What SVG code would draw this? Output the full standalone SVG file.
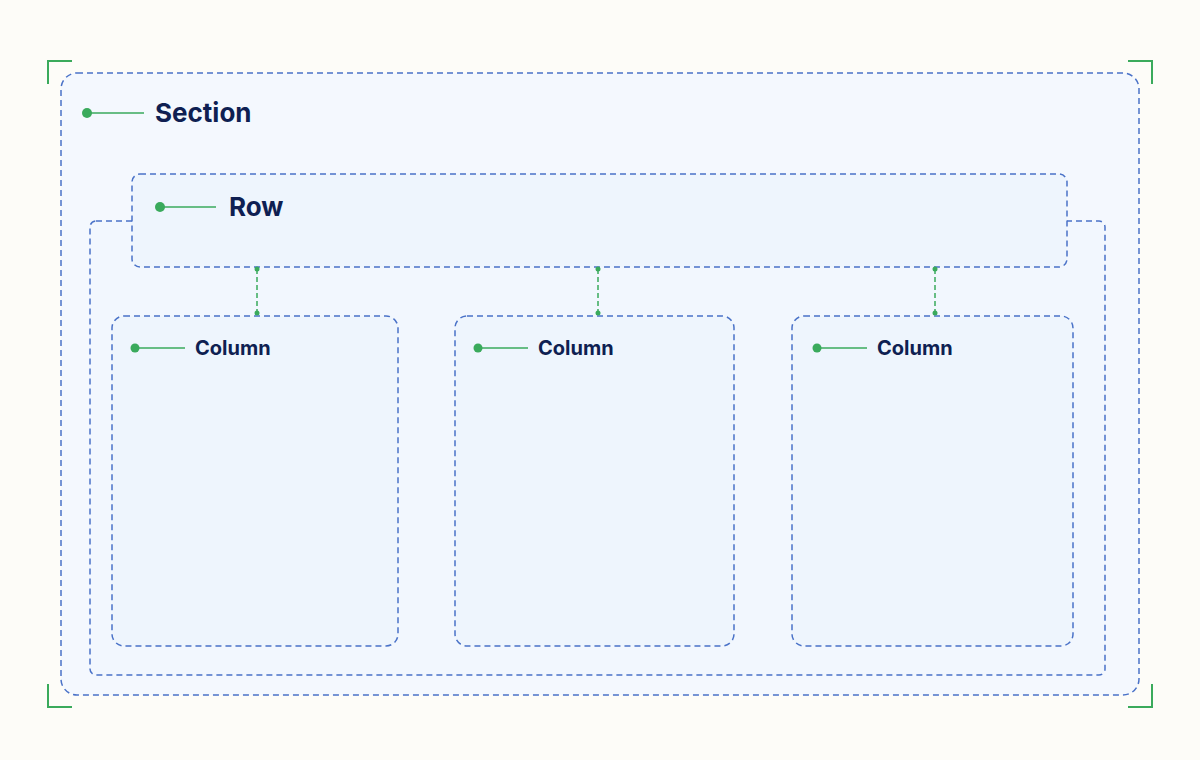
<svg xmlns="http://www.w3.org/2000/svg" width="1200" height="760" viewBox="0 0 1200 760">
<style>
.box{fill:#eef5fd;stroke:#4a72c8;stroke-width:1.5;stroke-dasharray:6 4}
.lbl{font-family:Inter,"Liberation Sans",sans-serif;font-weight:700;fill:#0f1f52}
.lead{stroke:#3aaa5c;stroke-width:1.5}
.dot{fill:#3aaa5c}
.br{fill:none;stroke:#3aaa5c;stroke-width:2}
.conn{stroke:#3aaa5c;stroke-width:1.5;stroke-dasharray:5 3}
</style>
<rect width="1200" height="760" fill="#fdfcf8"/>
<path class="br" d="M48 84V61H72M1128 61H1152V84M48 684V707H72M1128 707H1152V684"/>
<g id="section"><rect class="box" x="61" y="73" width="1078" height="622" rx="16" style="fill:#f4f8fe"/>
<circle class="dot" cx="87" cy="113" r="5"/><line class="lead" x1="87" y1="113" x2="144" y2="113"/>
<text class="lbl" x="155" y="122" font-size="26">Section</text></g>
<g id="container"><rect class="box" x="90" y="221" width="1015" height="454" rx="6" style="fill:#f2f7fe"/></g>
<g id="row"><rect class="box" x="132" y="174" width="935" height="93" rx="8"/>
<circle class="dot" cx="160" cy="207" r="5"/><line class="lead" x1="160" y1="207" x2="216" y2="207"/>
<text class="lbl" x="229" y="216" font-size="26">Row</text></g>
<g id="col1"><rect class="box" x="112" y="316" width="286" height="330" rx="12"/>
<circle class="dot" cx="135" cy="348" r="4.5"/><line class="lead" x1="135" y1="348" x2="185" y2="348"/>
<text class="lbl" x="195" y="355" font-size="20">Column</text></g>
<g id="col2"><rect class="box" x="455" y="316" width="279" height="330" rx="12"/>
<circle class="dot" cx="478" cy="348" r="4.5"/><line class="lead" x1="478" y1="348" x2="528" y2="348"/>
<text class="lbl" x="538" y="355" font-size="20">Column</text></g>
<g id="col3"><rect class="box" x="792" y="316" width="281" height="330" rx="12"/>
<circle class="dot" cx="817" cy="348" r="4.5"/><line class="lead" x1="817" y1="348" x2="867" y2="348"/>
<text class="lbl" x="877" y="355" font-size="20">Column</text></g>
<g id="connectors">
<line class="conn" x1="257" y1="269" x2="257" y2="313"/><circle class="dot" cx="257" cy="269" r="2.5"/><circle class="dot" cx="257" cy="313" r="2.5"/>
<line class="conn" x1="598" y1="269" x2="598" y2="313"/><circle class="dot" cx="598" cy="269" r="2.5"/><circle class="dot" cx="598" cy="313" r="2.5"/>
<line class="conn" x1="935" y1="269" x2="935" y2="313"/><circle class="dot" cx="935" cy="269" r="2.5"/><circle class="dot" cx="935" cy="313" r="2.5"/>
</g>
</svg>
